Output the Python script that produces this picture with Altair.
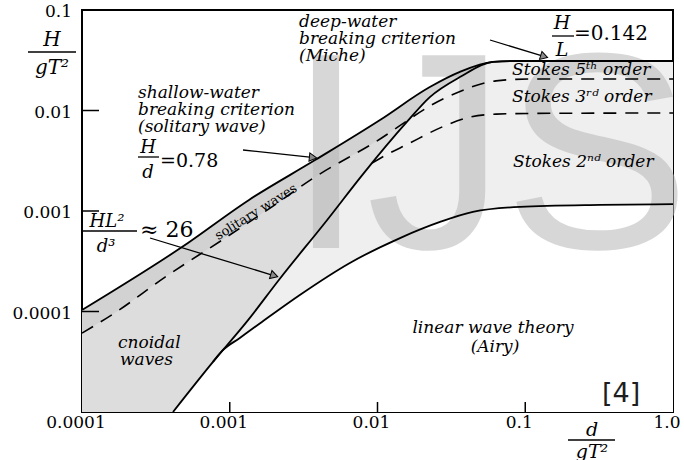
import altair as alt
import pandas as pd

# ---------------- data (d/gT^2 , H/gT^2) ----------------
# breaking limit: shallow-water H/d=0.78 joined to deep-water Miche H/L=0.142
top_x = [1e-4, 4.75e-4, 1.35e-3, 3.78e-3, 1.04e-2, 2.26e-2, 3.61e-2, 6.05e-2, 9.2e-2, 1.0]
top_y = [1.035e-4, 4.38e-4, 1.29e-3, 3.21e-3, 8.04e-3, 1.71e-2, 2.42e-2, 3.04e-2, 3.11e-2, 3.11e-2]

# cnoidal / Stokes boundary (HL^2/d^3 = 26)
steep_x = [4.13e-4, 7.7e-4, 1.33e-3, 2.15e-3, 4.55e-3, 7.98e-3, 1.58e-2, 2.26e-2, 3.61e-2, 6.05e-2, 9.2e-2, 1.0]
steep_y = [1e-5, 3.15e-5, 8.2e-5, 2.06e-4, 8.1e-4, 2.33e-3, 7.69e-3, 1.36e-2, 2.15e-2, 3.04e-2, 3.11e-2, 3.11e-2]

# Stokes 2nd order / linear theory boundary (branches off the steep line)
lower_x = [7.7e-4, 8.87e-4, 1.17e-3, 1.65e-3, 2.98e-3, 6.5e-3, 1.42e-2, 2.65e-2, 4.42e-2, 9.2e-2, 0.321, 1.0]
lower_y = [3.15e-5, 4.05e-5, 5.45e-5, 7.87e-5, 1.46e-4, 3.04e-4, 5.38e-4, 7.78e-4, 9.8e-4, 1.1e-3, 1.15e-3, 1.17e-3]

# dashed: solitary waves / Stokes 5th - 3rd boundary
d1_x = [1e-4, 1.67e-4, 3.65e-4, 8.87e-4, 1.93e-3, 3.78e-3, 9.18e-3, 2.95e-2, 6.34e-2, 0.108, 1.0]
d1_y = [6.1e-5, 9.7e-5, 2.2e-4, 5.14e-4, 1.1e-3, 2.18e-3, 4.64e-3, 1.36e-2, 1.97e-2, 2.06e-2, 2.06e-2]

# dashed: Stokes 3rd - 2nd boundary
d2_x = [9.18e-3, 1.143e-2, 1.56e-2, 2.95e-2, 4.23e-2, 6.34e-2, 0.108, 1.0]
d2_y = [3.0e-3, 3.61e-3, 4.54e-3, 7.18e-3, 8.6e-3, 9.2e-3, 9.35e-3, 9.45e-3]

x_tick_vals = [1e-3, 1e-2, 1e-1]
y_tick_vals = [1e-2, 1e-3, 1e-4]
x_label_vals = [1e-4, 1e-3, 1e-2, 1e-1, 1.0]
x_label_text = ["0.0001", "0.001", "0.01", "0.1", "1.0"]
y_label_vals = [1e-1, 1e-2, 1e-3, 1e-4]
y_label_text = ["0.1", "0.01", "0.001", "0.0001"]

# ---------------- layout ----------------
OX, OY = 82, 10          # plot origin in the page
W, H = 591, 402
XMIN, XMAX, YMIN, YMAX = 1e-4, 1.0, 1e-5, 1e-1

xs = alt.Scale(type="log", domain=[XMIN, XMAX], nice=False)
ys = alt.Scale(type="log", domain=[YMIN, YMAX], nice=False)


def XE(field="x"):
    return alt.X(f"{field}:Q", scale=xs, axis=None)


def YE(field="y"):
    return alt.Y(f"{field}:Q", scale=ys, axis=None)


def df(x, y):
    return pd.DataFrame({"x": x, "y": y})


def area(x, y, color):
    return alt.Chart(df(x, y)).mark_area(color=color, interpolate="monotone", clip=True).encode(
        x=XE(), y=YE(), y2=alt.datum(YMIN),
    )


def line(x, y, dash=None, w=1.8):
    kw = dict(color="black", strokeWidth=w, interpolate="monotone", clip=True)
    if dash:
        kw["strokeDash"] = dash
    return alt.Chart(df(x, y)).mark_line(**kw).encode(x=XE(), y=YE())


ONE = pd.DataFrame({"k": [0]})


def txt(s, X, Y, size=17, style="italic", font="DejaVu Serif", align="left",
        baseline="alphabetic", angle=0, color="black", opacity=1.0):
    kw = dict(text=s, fontSize=size, font=font, align=align, baseline=baseline,
              color=color, opacity=opacity)
    if style:
        kw["fontStyle"] = style
    if angle:
        kw["angle"] = angle
    return alt.Chart(ONE).mark_text(**kw).encode(x=alt.value(X - OX), y=alt.value(Y - OY))


def seg(X1, Y1, X2, Y2, w=1.5):
    return alt.Chart(ONE).mark_rule(color="black", strokeWidth=w).encode(
        x=alt.value(X1 - OX), y=alt.value(Y1 - OY), x2=alt.value(X2 - OX), y2=alt.value(Y2 - OY))


def head(X, Y, ang):
    return alt.Chart(ONE).mark_point(shape="triangle-right", filled=True, fill="#8a8a8a",
                                      stroke="black", strokeWidth=1, size=70, angle=ang,
                                      opacity=1).encode(
        x=alt.value(X - OX), y=alt.value(Y - OY))


fills = [
    area(top_x, top_y, "#d2d2d2"),
    area(d1_x, d1_y, "#dddddd"),
    area(steep_x, steep_y, "#efefef"),
    area(steep_x[:1] + lower_x, steep_y[:1] + lower_y, "white"),
]

wm = dict(size=280, style=None, font="Liberation Sans, Arial, sans-serif", color="#b8b8b8", opacity=0.55)
watermark = [txt("I", 326, 248, align="center", **wm),
             txt("J", 506, 248, align="right", **wm),
             txt("S", 597, 248, align="center", **wm)]

curves = [
    line(top_x, top_y),
    line(steep_x, steep_y),
    line(lower_x, lower_y),
    line(d1_x, d1_y, dash=[13, 9], w=1.6),
    line(d2_x, d2_y, dash=[13, 9], w=1.6),
]

ticks = [
    alt.Chart(pd.DataFrame({"x": x_tick_vals})).mark_rule(color="black", strokeWidth=1.5).encode(
        x=XE(), y=alt.value(H), y2=alt.value(H - 10)),
    alt.Chart(pd.DataFrame({"y": y_tick_vals})).mark_rule(color="black", strokeWidth=1.5).encode(
        y=YE(), x=alt.value(0), x2=alt.value(17)),
]

tick_labels = [
    alt.Chart(pd.DataFrame({"x": x_label_vals, "t": x_label_text})).mark_text(
        font="DejaVu Serif", fontSize=17, color="black", align="center", baseline="alphabetic", dx=-6
    ).encode(x=XE(), y=alt.value(428 - OY), text="t:N"),
    alt.Chart(pd.DataFrame({"y": y_label_vals, "t": y_label_text})).mark_text(
        font="DejaVu Serif", fontSize=17, color="black", align="right", baseline="middle", dy=2
    ).encode(y=YE(), x=alt.value(-10), text="t:N"),
]

labels = [
    # deep-water criterion
    txt("deep-water", 299, 27), txt("breaking criterion", 299, 44), txt("(Miche)", 299, 61),
    # shallow-water criterion
    txt("shallow-water", 138, 98), txt("breaking criterion", 138, 115), txt("(solitary wave)", 138, 132),
    txt("H", 148, 148, size=18, align="center", baseline="middle"),
    seg(138, 157, 159, 157, w=1.3),
    txt("d", 148, 173, size=18, align="center", baseline="middle"),
    txt("=0.78", 160, 161, size=19, style=None, baseline="middle"),
    # Ursell number
    txt("HL²", 107, 222, size=18, align="center", baseline="middle"),
    seg(83, 231, 137, 231, w=1.3),
    txt("d³", 106, 247, size=18, align="center", baseline="middle"),
    txt("≈ 26", 140, 230, size=22, style=None, baseline="middle"),
    # H/L = 0.142
    txt("H", 562, 23, size=19, align="center", baseline="middle"),
    seg(552, 36, 574, 36, w=1.3),
    txt("L", 562, 50, size=19, align="center", baseline="middle"),
    txt("=0.142", 574, 34, size=20, style=None, baseline="middle"),
    # Stokes regions
    txt("Stokes 5ᵗʰ order", 512, 75), txt("Stokes 3ʳᵈ order", 512, 102), txt("Stokes 2ⁿᵈ order", 513, 167),
    txt("solitary waves", 256, 212, size=13, style=None, align="center", baseline="middle", angle=328),
    txt("cnoidal", 118, 348), txt("waves", 120, 365),
    txt("linear wave theory", 493, 333, align="center"), txt("(Airy)", 495, 352, align="center"),
    # axis titles
    txt("H", 52, 40, size=20, align="center", baseline="middle"),
    seg(28, 52, 76, 52, w=1.3),
    txt("gT²", 52, 68, size=20, align="center", baseline="middle"),
    txt("d", 592, 430, size=19, align="center", baseline="middle"),
    seg(568, 440, 615, 440, w=1.3),
    txt("gT²", 592, 452, size=19, align="center", baseline="middle"),
    # reference mark
    txt("[4]", 602, 402, size=27, style=None, font="DejaVu Sans", color="#1e1e1e"),
    # arrows
    seg(243, 150, 312, 157.4, w=1.3), head(313, 157.5, 6),
    seg(150, 238, 273, 275.3, w=1.3), head(274.2, 275.6, 17),
    seg(490, 40, 543, 56.2, w=1.3), head(544.2, 56.5, 17),
]

chart = alt.layer(*fills, *watermark, *curves, *ticks, *tick_labels, *labels).properties(
    width=W, height=H,
    padding={"left": OX, "top": OY, "right": 684 - OX - W, "bottom": 460 - OY - H},
    autosize=alt.AutoSizeParams(type="none"),
    background="white",
).configure_view(stroke="black", strokeWidth=2)

chart.save("out.html", embed_options={"renderer": "svg", "actions": False})
